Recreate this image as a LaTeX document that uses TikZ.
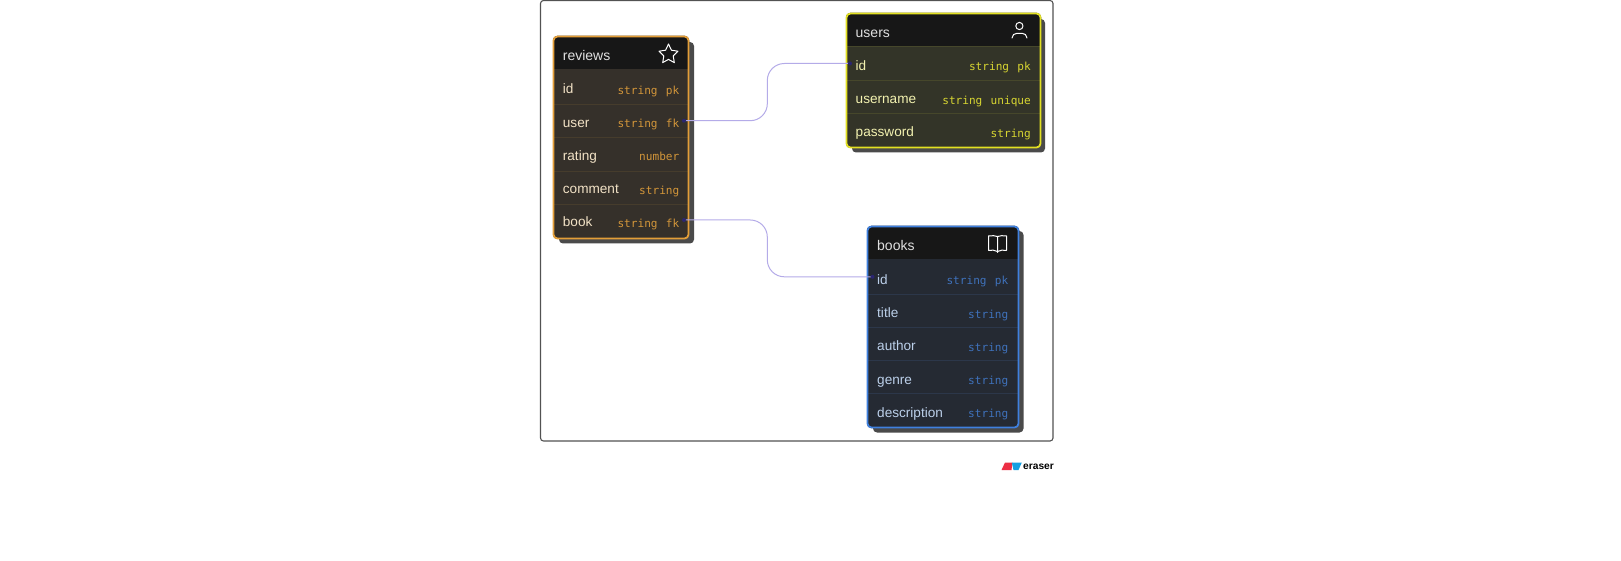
\documentclass[tikz,border=0pt]{standalone}
\usepackage{fontspec}
\setmainfont{Liberation Sans}
\newfontfamily\typefont{DejaVu Sans Mono}
\pgfdeclarelayer{topdots}
\pgfsetlayers{main,topdots}
\definecolor{hdr}{HTML}{171717}
\definecolor{shade}{HTML}{4A4A4A}
\definecolor{conn}{HTML}{B4ABE8}
\definecolor{dotc}{HTML}{2A2570}
\definecolor{rB}{HTML}{E39E38}\definecolor{rF}{HTML}{35302A}\definecolor{rS}{HTML}{463C2C}\definecolor{rN}{HTML}{F2E2C6}\definecolor{rT}{HTML}{D3963A}
\definecolor{uB}{HTML}{E2E022}\definecolor{uF}{HTML}{333428}\definecolor{uS}{HTML}{46472B}\definecolor{uN}{HTML}{F3F2B0}\definecolor{uT}{HTML}{D8D632}
\definecolor{bB}{HTML}{3F80DE}\definecolor{bF}{HTML}{252A33}\definecolor{bS}{HTML}{2C374A}\definecolor{bN}{HTML}{BCD0EA}\definecolor{bT}{HTML}{3F72BC}
\newcommand{\typegap}{\hspace{8.3pt}}
\tikzset{
  x=1pt,y=-1pt,
  frame/.style={draw=black!68,line width=1.1pt,rounded corners=3pt},
  shadowbox/.style={fill=shade,rounded corners=4pt},
  title/.style={anchor=base west,inner sep=0pt,font=\fontsize{14}{16}\selectfont,text=white!88!black},
  fname/.style={anchor=base west,inner sep=0pt,font=\fontsize{13.6}{16}\selectfont},
  ftype/.style={anchor=base east,inner sep=0pt,font=\typefont\fontsize{11.1}{14}\selectfont},
  link/.style={draw=conn,line width=1pt,rounded corners=17pt},
  enddot/.style={circle,fill=dotc,inner sep=0pt,minimum size=4pt},
  sepline/.style={line width=0.8pt},
  edge box/.style={line width=1.8pt,rounded corners=4pt},
  icon/.style={draw=white,line width=1pt,line join=round,line cap=round}
}
\begin{document}
\begin{tikzpicture}
\useasboundingbox (0,0) rectangle (1621,561);
\fill[white] (0,0) rectangle (1621,561);
\draw[frame] (540.5,0.5) rectangle (1053,441);

%--- reviews
\fill[shadowbox] (559,42) rectangle (694,243.5);
\fill[rF,rounded corners=4pt] (553,36) rectangle (689,239);
\fill[hdr,rounded corners=4pt] (553,36) rectangle (689,50);
\fill[hdr] (553,45) rectangle (689,69);
\foreach \yy in {104,137.5,171,204}{\draw[rS,sepline] (554,\yy) -- (688,\yy);}
\draw[draw=rB,edge box] (553.5,36.5) rectangle (688.5,238.5);
\node[title] (rt) at (562.7,61) {reviews};
\node[fname,text=rN] (r1n) at (562.7,94) {id};
\node[ftype,text=rT] (r1t) at (679.5,95) {string\typegap pk};
\node[fname,text=rN] (r2n) at (562.7,127.5) {user};
\node[ftype,text=rT] (r2t) at (679.5,128) {string\typegap fk};
\node[fname,text=rN] (r3n) at (562.7,161) {rating};
\node[ftype,text=rT] (r3t) at (679.5,161) {number};
\node[fname,text=rN] (r4n) at (562.7,194) {comment};
\node[ftype,text=rT] (r4t) at (679.5,194.5) {string};
\node[fname,text=rN] (r5n) at (562.7,227) {book};
\node[ftype,text=rT] (r5t) at (679.5,228) {string\typegap fk};
% star
\draw[icon] (668.5,44) -- (671.4,50.2) -- (678,51.2) -- (673.2,55.9) -- (674.3,62.6) -- (668.5,59.4) -- (662.7,62.6) -- (663.8,55.9) -- (659,51.2) -- (665.6,50.2) -- cycle;

%--- users
\fill[shadowbox] (852,19) rectangle (1045,152.5);
\fill[uF,rounded corners=4pt] (846,13) rectangle (1041,148);
\fill[hdr,rounded corners=4pt] (846,13) rectangle (1041,27);
\fill[hdr] (846,22) rectangle (1041,46);
\foreach \yy in {46,80,113}{\draw[uS,sepline] (847,\yy) -- (1040,\yy);}
\draw[draw=uB,edge box] (846.5,13.5) rectangle (1040.5,147.5);
\node[title] (ut) at (855.5,37.5) {users};
\node[fname,text=uN] (u1n) at (855.5,70.5) {id};
\node[ftype,text=uT] (u1t) at (1031,71) {string\typegap pk};
\node[fname,text=uN] (u2n) at (855.5,104) {username};
\node[ftype,text=uT] (u2t) at (1031,104.5) {string\typegap unique};
\node[fname,text=uN] (u3n) at (855.5,137) {password};
\node[ftype,text=uT] (u3t) at (1031,137.5) {string};
% person
\draw[icon] (1019.4,26) circle (3.6);
\draw[icon] (1012,38) .. controls (1012,35) and (1014.5,33.3) .. (1017,33.3) -- (1022,33.3) .. controls (1024.5,33.3) and (1027,35) .. (1027,38);

%--- books
\fill[shadowbox] (873,231) rectangle (1023.5,432.5);
\fill[bF,rounded corners=4pt] (867,226) rectangle (1019,428);
\fill[hdr,rounded corners=4pt] (867,226) rectangle (1019,240);
\fill[hdr] (867,235) rectangle (1019,259);
\foreach \yy in {294,327.5,360.5,393.5}{\draw[bS,sepline] (868,\yy) -- (1018,\yy);}
\draw[draw=bB,edge box] (867.5,226.5) rectangle (1018.5,427.5);
\node[title] (bt) at (877,251) {books};
\node[fname,text=bN] (b1n) at (877,284) {id};
\node[ftype,text=bT] (b1t) at (1008.5,284.5) {string\typegap pk};
\node[fname,text=bN] (b2n) at (877,317) {title};
\node[ftype,text=bT] (b2t) at (1008.5,318) {string};
\node[fname,text=bN] (b3n) at (877,350) {author};
\node[ftype,text=bT] (b3t) at (1008.5,351) {string};
\node[fname,text=bN] (b4n) at (877,384) {genre};
\node[ftype,text=bT] (b4t) at (1008.5,384.5) {string};
\node[fname,text=bN] (b5n) at (877,417) {description};
\node[ftype,text=bT] (b5t) at (1008.5,417.5) {string};
% open book
\draw[icon] (997.5,236.5) .. controls (995,235.5) and (992,235.5) .. (988.5,236) -- (988.5,250.3) .. controls (992,250) and (995,250) .. (997.5,251.5) .. controls (1000,250) and (1003,250) .. (1006.5,250.3) -- (1006.5,236) .. controls (1003,235.5) and (1000,235.5) .. (997.5,236.5) -- (997.5,252.5);

%--- connectors
\begin{pgfonlayer}{topdots}
\node[enddot] (d1) at (684,120.7) {};
\node[enddot] (d2) at (684,220) {};
\node[enddot] (d3) at (850,63.5) {};
\node[enddot] (d4) at (872.5,276.8) {};
\end{pgfonlayer}
\coordinate (c1) at (767.3,120.7);
\coordinate (c2) at (767.3,63.5);
\coordinate (c3) at (767.3,220);
\coordinate (c4) at (767.3,276.8);
\draw[link] (d1.center) -- (c1) -- (c2) -- (d3.center);
\draw[link] (d2.center) -- (c3) -- (c4) -- (d4.center);

%--- logo
\fill[color={rgb,255:red,236;green,47;blue,68}] (1005,462.5) -- (1012.5,462.5) -- (1011.5,470) -- (1001.5,470) -- cycle;
\fill[color={rgb,255:red,20;green,160;blue,226}] (1011.8,462.5) -- (1021.8,462.5) -- (1018.5,470) -- (1013.5,470) -- cycle;
\node[anchor=base west,inner sep=0pt,text=black,font=\bfseries\fontsize{10.2}{12}\selectfont] (logo) at (1023,469.5) {eraser};
\end{tikzpicture}
\end{document}
